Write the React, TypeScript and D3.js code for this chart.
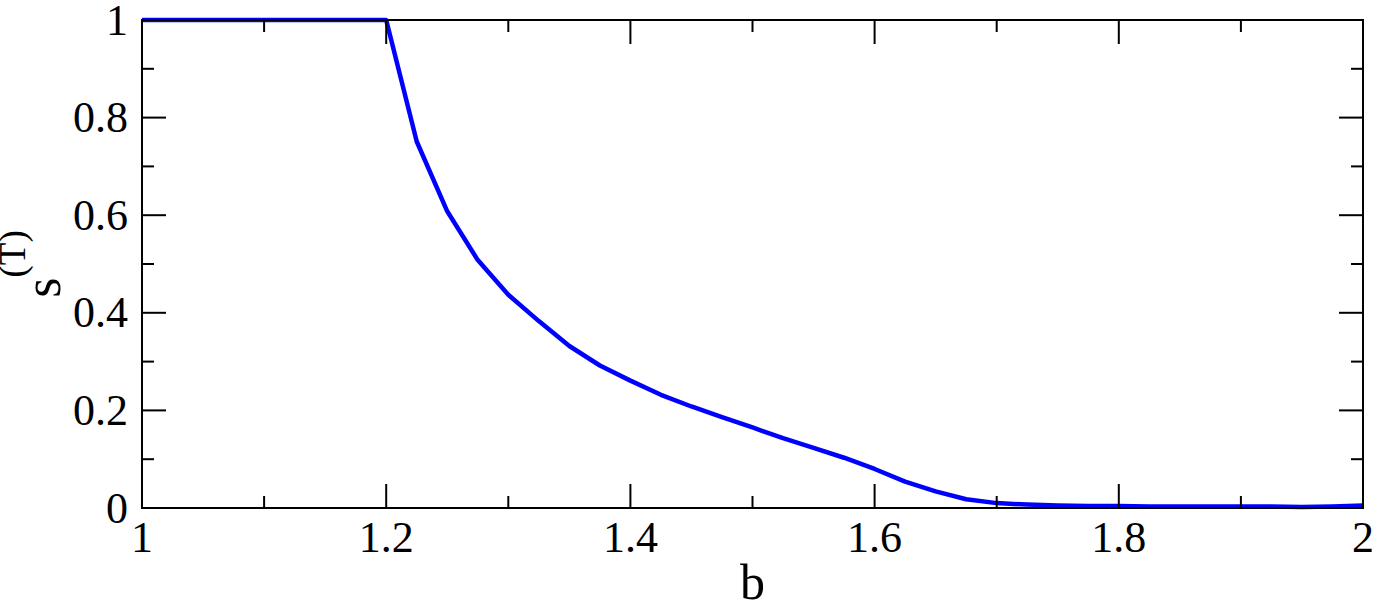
import React, { useEffect, useRef } from 'react';
import * as d3 from 'd3';

// b values, step 0.025
const bValues = [
  1.0, 1.025, 1.05, 1.075, 1.1, 1.125, 1.15, 1.175, 1.2,
  1.225, 1.25, 1.275, 1.3, 1.325, 1.35, 1.375, 1.4,
  1.425, 1.45, 1.475, 1.5, 1.525, 1.55, 1.575, 1.6,
  1.625, 1.65, 1.675, 1.7, 1.725, 1.75, 1.775, 1.8,
  1.825, 1.85, 1.875, 1.9, 1.925, 1.95, 1.975, 2.0,
];
const sValues = [
  1, 1, 1, 1, 1, 1, 1, 1, 1,
  0.751, 0.608, 0.508, 0.437, 0.383, 0.332, 0.292, 0.261,
  0.232, 0.208, 0.186, 0.165, 0.143, 0.123, 0.103, 0.08,
  0.054, 0.034, 0.018, 0.01, 0.007, 0.005, 0.004, 0.004,
  0.003, 0.003, 0.003, 0.003, 0.003, 0.002, 0.003, 0.005,
];
const xTicks = [1, 1.2, 1.4, 1.6, 1.8, 2];
const xMinor = [1.1, 1.3, 1.5, 1.7, 1.9];
const yTicks = [0, 0.2, 0.4, 0.6, 0.8, 1];
const yMinor = [0.1, 0.3, 0.5, 0.7, 0.9];

function App() {
  const ref = useRef<SVGSVGElement>(null);

  useEffect(() => {
    const svg = d3.select(ref.current);
    svg.selectAll('*').remove();
    const left = 142, right = 1363, top = 20, bottom = 508;
    const font = '"Liberation Serif", "Times New Roman", serif';

    const x = d3.scaleLinear().domain([1, 2]).range([left, right]);
    const y = d3.scaleLinear().domain([0, 1]).range([bottom, top]);

    const data = bValues.map((b, i) => ({ b, s: sValues[i] }));

    // curve
    svg.append('path')
      .datum(data)
      .attr('fill', 'none')
      .attr('stroke', '#0000ff')
      .attr('stroke-width', 4.5)
      .attr('stroke-linejoin', 'round')
      .attr('d', d3.line<{ b: number; s: number }>()
        .x(d => x(d.b))
        .y(d => y(d.s)));

    const ticks = svg.append('g').attr('stroke', '#000').attr('stroke-width', 2);
    const addX = (vals: number[], len: number) => {
      vals.forEach(v => {
        ticks.append('line').attr('x1', x(v)).attr('x2', x(v)).attr('y1', bottom).attr('y2', bottom - len);
        ticks.append('line').attr('x1', x(v)).attr('x2', x(v)).attr('y1', top).attr('y2', top + len);
      });
    };
    const addY = (vals: number[], len: number) => {
      vals.forEach(v => {
        ticks.append('line').attr('y1', y(v)).attr('y2', y(v)).attr('x1', left).attr('x2', left + len);
        ticks.append('line').attr('y1', y(v)).attr('y2', y(v)).attr('x1', right).attr('x2', right - len);
      });
    };
    addX(xTicks, 24);
    addX(xMinor, 12);
    addY(yTicks, 24);
    addY(yMinor, 12);

    // frame
    svg.append('rect')
      .attr('x', left).attr('y', top)
      .attr('width', right - left).attr('height', bottom - top)
      .attr('fill', 'none').attr('stroke', '#000').attr('stroke-width', 2);

    // tick labels
    svg.append('g').selectAll('text').data(xTicks).join('text')
      .attr('x', d => x(d)).attr('y', 552)
      .attr('text-anchor', 'middle')
      .attr('font-family', font).attr('font-size', 44)
      .text(d => d3.format('')(d));

    svg.append('g').selectAll('text').data(yTicks).join('text')
      .attr('x', 128).attr('y', d => y(d))
      .attr('dy', '0.33em')
      .attr('text-anchor', 'end')
      .attr('font-family', font).attr('font-size', 44)
      .text(d => d3.format('')(d));

    // axis titles
    svg.append('text')
      .attr('x', (left + right) / 2).attr('y', 599)
      .attr('text-anchor', 'middle')
      .attr('font-family', font).attr('font-size', 50)
      .text('b');

    const yl = svg.append('text')
      .attr('transform', `translate(60,${(top + bottom) / 2}) rotate(-90)`)
      .attr('text-anchor', 'middle')
      .attr('font-family', font);
    yl.append('tspan').attr('font-size', 52).text('s');
    yl.append('tspan').attr('font-size', 37).attr('dy', -35).text('(T)');
  }, []);

  return (
    <svg ref={ref} width="1377" height="605"
      style={{ position: 'absolute', left: 0, top: 0, background: '#fff' }} />
  );
}

export default App;
